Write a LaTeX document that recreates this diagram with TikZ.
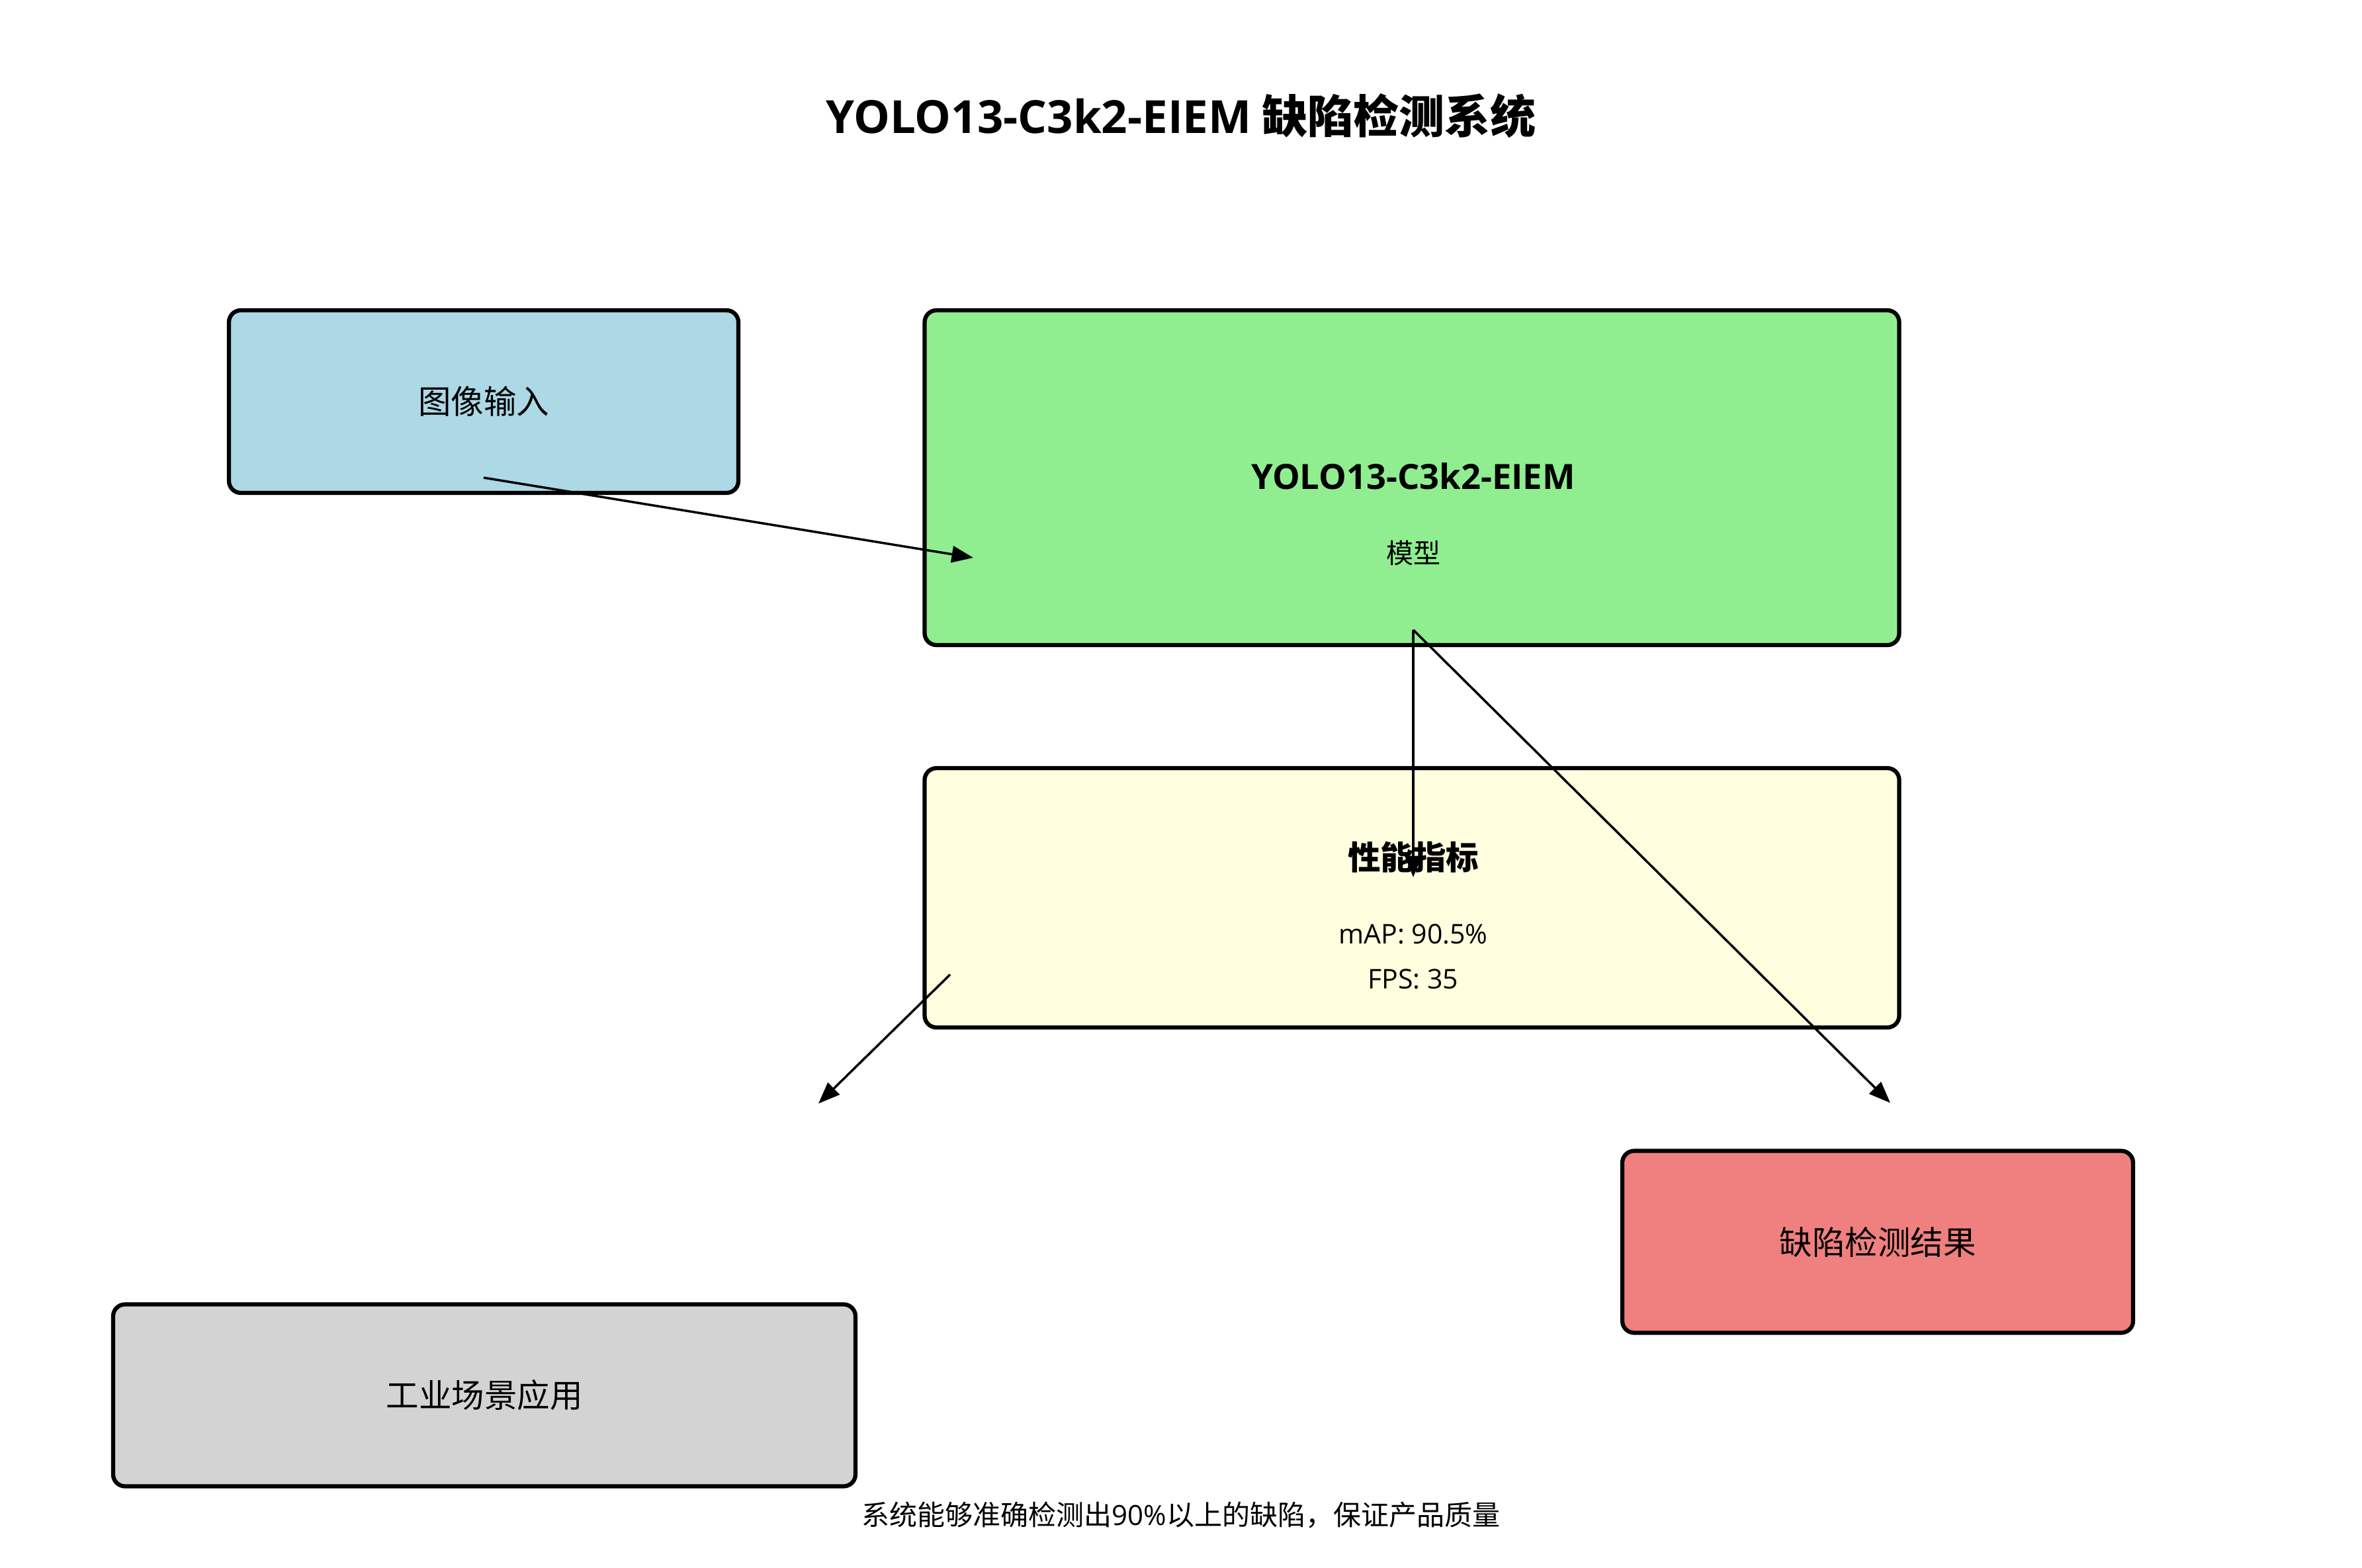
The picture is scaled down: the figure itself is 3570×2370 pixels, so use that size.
\documentclass[tikz,border=0pt]{standalone}
\usepackage{fontspec}
\setmainfont{Noto Sans CJK SC}
\newfontfamily\latinf{Open Sans}
\usetikzlibrary{arrows.meta}
\definecolor{inblue}{HTML}{ADD8E6}
\definecolor{modgreen}{HTML}{90EE90}
\definecolor{perfyellow}{HTML}{FFFFE0}
\definecolor{resred}{HTML}{F08080}
\definecolor{appgray}{HTML}{D3D3D3}

\begin{document}
\begin{tikzpicture}[x=0.2pt,y=-0.2pt,
     box/.style={draw,line width=1.25pt,rounded corners=3.6pt,
       font=\fontsize{9.9}{12}\selectfont},
     head/.style={font=\fontsize{9.9}{12}\selectfont\bfseries},
     sub/.style={font=\fontsize{8.2}{10}\selectfont},
     link/.style={-{Triangle[length=6.5pt,width=5pt]},line width=0.7pt}]
    \useasboundingbox (0,0) rectangle (3570,2370);
    \node[font=\fontsize{13.8}{16}\selectfont\bfseries] (title) at (1785,175)
      {{\latinf\bfseries YOLO13-C3k2-EIEM} 缺陷检测系统};
    % boxes
    \node[box,fill=inblue,minimum width=154pt,minimum height=55.2pt]
      (input) at (731,607) {图像输入};
    \node[box,fill=modgreen,minimum width=294.6pt,minimum height=101.2pt]
      (model) at (2134,722) {};
    \node[head,font=\fontsize{10.5}{12}\selectfont\bfseries] (modelname)
      at (2136,720) {\latinf\bfseries YOLO13-C3k2-EIEM};
    \node[sub] (modeltype) at (2136,836) {模型};
    \node[box,fill=perfyellow,minimum width=294.6pt,minimum height=78.4pt]
      (perf) at (2134,1357) {};
    \node[head] (perfname) at (2136,1296) {性能指标};
    \node[sub] (map) at (2136,1412) {\latinf mAP: 90.5\%};
    \node[sub] (fps) at (2136,1480) {\latinf FPS: 35};
    \node[box,fill=resred,minimum width=154.4pt,minimum height=55pt]
      (result) at (2838,1877) {缺陷检测结果};
    \node[box,fill=appgray,minimum width=224.4pt,minimum height=55pt]
      (app) at (732,2109) {工业场景应用};
    \node[font=\fontsize{8.4}{10}\selectfont] (note) at (1785,2290)
      {系统能够准确检测出{\latinf 90\%}以上的缺陷，保证产品质量};
    % connectors
    \coordinate (inputfoot) at (731,722);
    \coordinate (modelin) at (1471,843);
    \coordinate (modelfoot) at (2136,952);
    \coordinate (perfin) at (2136,1326);
    \coordinate (resultin) at (2857,1667);
    \coordinate (perfout) at (1436,1473);
    \coordinate (appin) at (1237,1668);
    \draw[link] (inputfoot) -- (modelin);
    \draw[link] (modelfoot) -- (perfin);
    \draw[link] (modelfoot) -- (resultin);
    \draw[link] (perfout) -- (appin);
  \end{tikzpicture}
\end{document}
